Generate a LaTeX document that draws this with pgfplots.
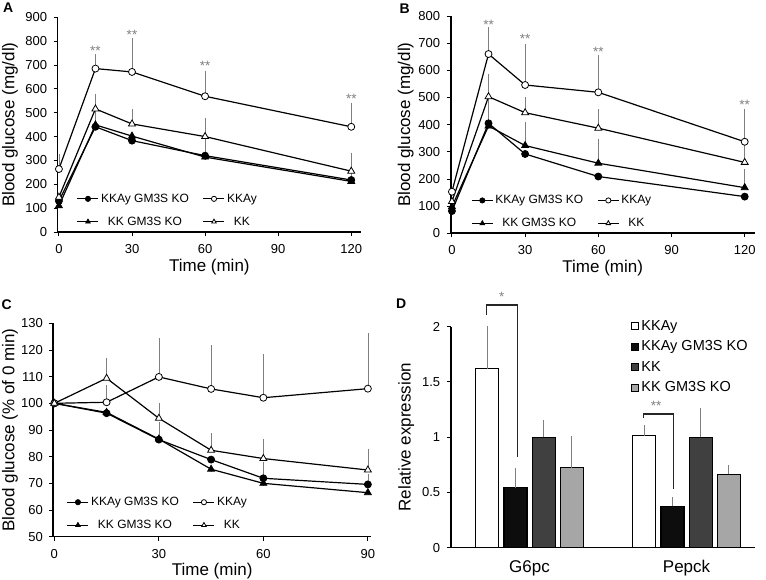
\documentclass[border=0pt]{standalone}
\usepackage{fontspec}
\setmainfont{Liberation Sans}
\usepackage{pgfplots}
\pgfplotsset{compat=1.18}
\newcommand{\fs}[1]{\fontsize{#1}{#1}\selectfont}
\definecolor{errgray}{HTML}{7F7F7F}
\definecolor{kkdark}{HTML}{404040}
\definecolor{kklight}{HTML}{A6A6A6}
\definecolor{kobl}{HTML}{0D0D0D}
\tikzset{starlbl/.style={text=errgray, font=\fs{13.5}, inner sep=0pt}}
\pgfplotsset{
  panel/.style={
    scale only axis, anchor=south west, clip=false,
    axis x line*=bottom, axis y line*=left,
    axis line style={-, line width=1.6pt, black},
    tick style={line width=0.9pt, black},
    tick align=outside, major tick length=4pt,
    tick label style={font=\fs{13}},
    xticklabel style={yshift=-5pt},
    yticklabel style={xshift=-3pt},
    label style={font=\fs{17}},
    /pgf/number format/assume math mode=true,
    ylabel style={anchor=center},
    xlabel style={at={(axis description cs:0.5,0)}, anchor=center},
  },
  linepanel/.style={
    panel,
    legend columns=2,
    legend style={draw=none, fill=none, font=\fs{12}, inner sep=0pt, anchor=north west,
       row sep=9pt, /tikz/every even column/.append style={column sep=12pt}},
    legend image code/.code={\draw[mark repeat=2,mark phase=2,##1] plot coordinates {(0pt,0pt) (10.5pt,0pt) (21pt,0pt)};},
    legend image post style={mark size=2.6pt},
    every axis plot/.append style={line width=1.2pt, black,
      error bars/y dir=plus, error bars/y explicit,
      error bars/error bar style={errgray, line width=0.7pt},
      error bars/error mark options={errgray, mark size=2.5pt, line width=0.7pt}},
  },
  barpanel/.style={
    panel,
    every axis plot/.append style={draw=black, line width=1.2pt,
      error bars/y dir=plus, error bars/y explicit,
      error bars/error bar style={errgray, line width=1.2pt},
      error bars/error mark options={errgray, mark size=2.5pt, line width=1.2pt}},
  },
  koc/.style={black, mark=*, mark size=3.5pt, mark options={fill=black, line width=0.8pt}},
  wtc/.style={black, mark=*, mark size=3.5pt, mark options={fill=white, line width=0.8pt}},
  kot/.style={black, mark=triangle*, mark size=4pt, mark options={fill=black, line width=0.8pt}},
  wtt/.style={black, mark=triangle*, mark size=4pt, mark options={fill=white, line width=0.8pt}},
}
\begin{document}
\begin{tikzpicture}
\path[use as bounding box] (0pt,0pt) rectangle (766pt,580pt);

% ---------------- Panel A ----------------
\begin{axis}[linepanel, at={(57.7pt,348pt)}, width=303.3pt, height=214.7pt,
  xmin=-0.5, xmax=124, ymin=0, ymax=900,
  xtick={0,30,60,90,120}, ytick={0,100,...,900},
  xlabel={Time (min)}, ylabel={Blood glucose (mg/dl)},
  ylabel style={at={(axis description cs:-0.157,0.5)}}, xlabel style={yshift=-35pt},
  legend style={at={(axis description cs:0.0626,0.1877)}}]
\addplot[koc] table[x=t,y=v,y error=e] {
t v e
0 130 0
15 441 56
30 383 0
60 320 106
120 218 81
};
\addlegendentry{KKAy GM3S KO}
\addplot[wtc] table[x=t,y=v,y error=e] {
t v e
0 264 53
15 685 50
30 671 131
60 569 96
120 441 91
};
\addlegendentry{KKAy}
\addplot[kot] table[x=t,y=v,y error=e] {
t v e
0 110 0
15 449 0
30 402 0
60 314 0
120 212 0
};
\addlegendentry{KK GM3S KO}
\addplot[wtt] table[x=t,y=v,y error=e] {
t v e
0 146 0
15 516 52
30 453 51
60 400 67
120 255 67
};
\addlegendentry{KK}
\node[starlbl] at (axis cs:15,760) {**};
\node[starlbl] at (axis cs:30,826) {**};
\node[starlbl] at (axis cs:60,695) {**};
\node[starlbl] at (axis cs:120,560) {**};
\end{axis}

% ---------------- Panel B ----------------
\begin{axis}[linepanel, at={(450.7pt,346.7pt)}, width=304pt, height=217.3pt,
  xmin=-0.5, xmax=124.1, ymin=0, ymax=800,
  xtick={0,30,60,90,120}, ytick={0,100,...,800},
  xlabel={Time (min)}, ylabel={Blood glucose (mg/dl)},
  ylabel style={at={(axis description cs:-0.148,0.5)}}, xlabel style={yshift=-35pt},
  legend style={at={(axis description cs:0.0668,0.184)}}]
\addplot[koc] table[x=t,y=v,y error=e] {
t v e
0 82 0
15 405 119
30 292 0
60 209 0
120 135 0
};
\addlegendentry{KKAy GM3S KO}
\addplot[wtc] table[x=t,y=v,y error=e] {
t v e
0 153 0
15 660 89
30 546 141
60 519 128
120 337 113
};
\addlegendentry{KKAy}
\addplot[kot] table[x=t,y=v,y error=e] {
t v e
0 98 0
15 395 0
30 323 78
60 258 81
120 168 59
};
\addlegendentry{KK GM3S KO}
\addplot[wtt] table[x=t,y=v,y error=e] {
t v e
0 117 0
15 503 76
30 444 49
60 387 61
120 261 70
};
\addlegendentry{KK}
\node[starlbl] at (axis cs:15,767) {**};
\node[starlbl] at (axis cs:30,715) {**};
\node[starlbl] at (axis cs:60,668) {**};
\node[starlbl] at (axis cs:120,472) {**};
\end{axis}

% ---------------- Panel C ----------------
\begin{axis}[linepanel, at={(53.3pt,43.3pt)}, width=317.7pt, height=213.4pt,
  xmin=-0.3, xmax=90.9, ymin=50, ymax=130,
  xtick={0,30,60,90}, ytick={50,60,...,130},
  xlabel={Time (min)}, ylabel={Blood glucose (\% of 0 min)},
  ylabel style={at={(axis description cs:-0.1363,0.5)}}, xlabel style={yshift=-34pt},
  legend style={at={(axis description cs:0.042,0.195)}}]
\addplot[koc] table[x=t,y=v,y error=e] {
t v e
0 100 0
15 96.3 0
30 86.4 5.5
45 78.9 0
60 71.9 5.2
90 69.6 2.8
};
\addlegendentry{KKAy GM3S KO}
\addplot[wtc] table[x=t,y=v,y error=e] {
t v e
0 100 0
15 100.4 5.5
30 109.9 13.5
45 105.4 15.5
60 102.1 15.4
90 105.5 19.9
};
\addlegendentry{KKAy}
\addplot[kot] table[x=t,y=v,y error=e] {
t v e
0 100 0
15 96.6 0
30 86.6 0
45 75.3 0
60 70.0 0
90 66.5 0
};
\addlegendentry{KK GM3S KO}
\addplot[wtt] table[x=t,y=v,y error=e] {
t v e
0 100 0
15 109.4 6.5
30 94.4 4.7
45 82.4 5.5
60 79.3 6.3
90 75.0 7.1
};
\addlegendentry{KK}
\end{axis}

% ---------------- Panel D ----------------
\begin{axis}[barpanel, at={(450.7pt,32.3pt)}, width=304pt, height=221pt,
  ybar=5.2pt, bar width=23pt,
  legend image code/.code={\draw[#1, line width=1pt] (0pt,-3.5pt) rectangle (7pt,3.5pt);},
  xmin=-0.502, xmax=1.434, ymin=0, ymax=2,
  xtick={0,1}, xticklabels={G6pc,Pepck}, x tick style={draw=none},
  xticklabel style={font=\fs{17}},
  ytick={0,0.5,1,1.5,2},
  ylabel={Relative expression},
  ylabel style={at={(axis description cs:-0.146,0.5)}},
  legend style={draw=none, fill=none, font=\fs{14.5}, inner sep=0pt, anchor=north west,
     at={(axis description cs:0.594,1.039)}, row sep=5pt, legend cell align=left},
]
\addplot[fill=white] table[x=c,y=v,y error=e] {
c v e
0 1.62 0.36
1 1.014 0.075
};
\addlegendentry{KKAy}
\addplot[fill=kobl] table[x=c,y=v,y error=e] {
c v e
0 0.543 0.16
1 0.374 0.06
};
\addlegendentry{KKAy GM3S KO}
\addplot[fill=kkdark] table[x=c,y=v,y error=e] {
c v e
0 0.998 0.136
1 1.0 0.24
};
\addlegendentry{KK}
\addplot[fill=kklight] table[x=c,y=v,y error=e] {
c v e
0 0.724 0.262
1 0.664 0.063
};
\addlegendentry{KK GM3S KO}
\draw[line width=1.3pt, black!85] (axis cs:-0.273,2.106) -- (axis cs:-0.273,2.195) -- (axis cs:-0.078,2.195) -- (axis cs:-0.078,0.824);
\draw[line width=1.3pt, black!85] (axis cs:0.725,1.17) -- (axis cs:0.725,1.21) -- (axis cs:0.916,1.21) -- (axis cs:0.916,0.528);
\node[starlbl] at (axis cs:-0.177,2.266) {*};
\node[starlbl] at (axis cs:0.806,1.285) {**};
\end{axis}

\node[font=\bfseries\fs{14}] at (8.3pt,572.5pt) {A};
\node[font=\bfseries\fs{14}] at (404.7pt,571.7pt) {B};
\node[font=\bfseries\fs{14}] at (6.7pt,275pt) {C};
\node[font=\bfseries\fs{14}] at (401.3pt,276.7pt) {D};
\end{tikzpicture}
\end{document}
